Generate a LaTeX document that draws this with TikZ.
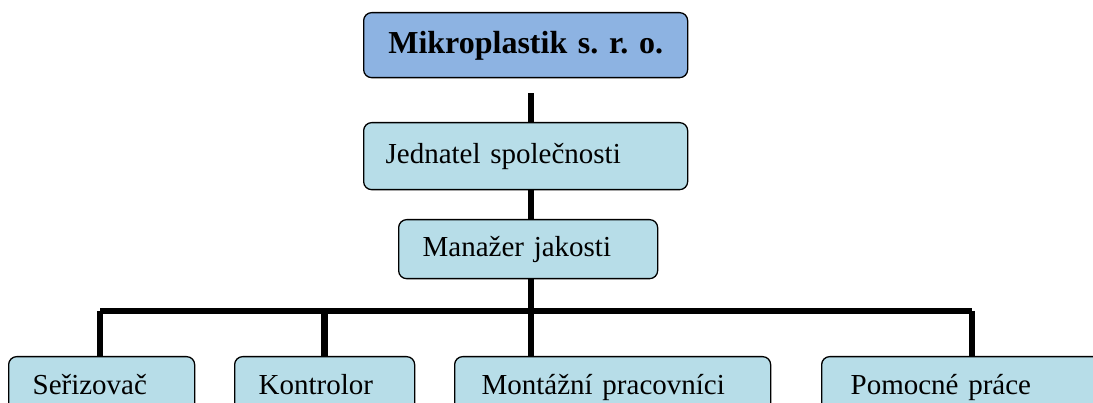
\documentclass[tikz,border=0pt]{standalone}
\usepackage{fontspec}
\setmainfont{Liberation Serif}
\frenchspacing
\definecolor{headblue}{HTML}{8DB3E2}
\definecolor{boxblue}{HTML}{B7DDE8}
\begin{document}
\begin{tikzpicture}[x=1pt,y=-1pt,
        unit/.style={draw=black,line width=1.3pt,rounded corners=8pt,fill=boxblue,
            anchor=north west,align=left,inner ysep=0pt,text height=20pt,text depth=6pt,
            font=\fontsize{29}{34}\selectfont},
        head/.style={unit,fill=headblue,align=center,text height=22pt,
            font=\fontsize{32}{38}\selectfont\bfseries},
        link/.style={line width=6.5pt}]
    \clip (0,0) rectangle (1093,403);
    %% top of the company
    \node[head,minimum width=324pt,minimum height=65pt,text width=300pt,inner xsep=12pt] (mikro) at (363,12) {Mikroplastik s. r. o.};
    \node[unit,minimum width=324pt,minimum height=67pt,text width=280pt,inner xsep=22pt] (jednatel) at (363,122) {Jednatel společnosti};
    \node[unit,minimum width=259pt,minimum height=59pt,text width=211pt,inner xsep=24pt] (manazer) at (398,219) {Manažer jakosti};
    %% bottom row
    \node[unit,minimum width=186pt,minimum height=62pt,text width=138pt,inner xsep=24pt] (serizovac) at (8,356) {Seřizovač};
    \node[unit,minimum width=180pt,minimum height=62pt,text width=132pt,inner xsep=24pt] (kontrolor) at (234,356) {Kontrolor};
    \node[unit,minimum width=316pt,minimum height=62pt,text width=262pt,inner xsep=27pt] (montazni) at (454,356) {Montážní pracovníci};
    \node[unit,minimum width=300pt,minimum height=62pt,text width=242pt,inner xsep=29pt] (pomocne) at (821,356) {Pomocné práce};
    %% trunk and bus
    \coordinate (trunk) at (531,0);
    \coordinate (busleft) at (100,311);
    \coordinate (busright) at (972,311);
    \draw[link,shorten <=15pt] (mikro.south -| trunk) -- (jednatel.north -| trunk);
    \draw[link] (jednatel.south -| trunk) -- (manazer.north -| trunk);
    \draw[link] (manazer.south -| trunk) -- (montazni.north -| trunk);
    \draw[link] (busleft) -- (busright);
    \draw[link] (busleft) -- (serizovac.north -| busleft);
    \draw[link] (kontrolor.north |- busleft) -- (kontrolor.north);
    \draw[link] (busright) -- (pomocne.north -| busright);
\end{tikzpicture}
\end{document}
